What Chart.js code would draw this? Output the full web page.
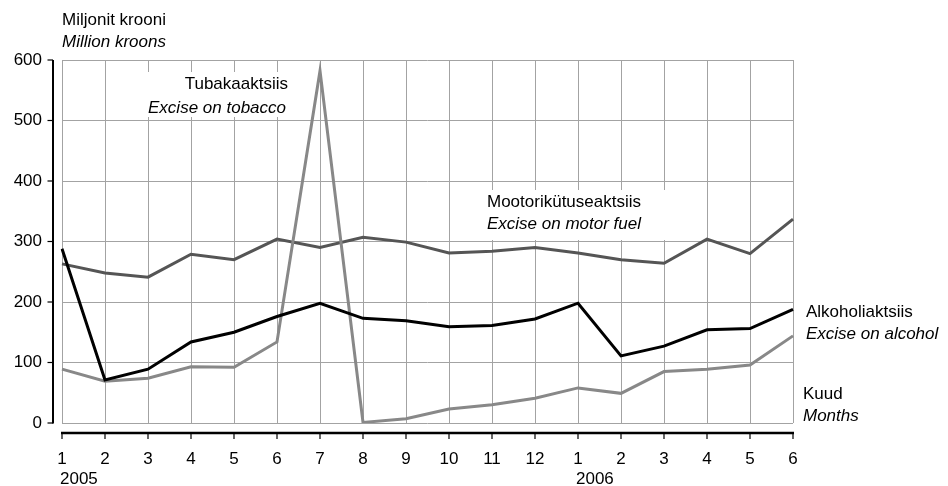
<!DOCTYPE html>
<html>
<head>
<meta charset="utf-8">
<script src="https://cdn.jsdelivr.net/npm/chart.js@4"></script>
<style>
  body { margin: 0; background: #fff; }
  canvas { display: block; }
</style>
</head>
<body>
<canvas id="chart" width="948" height="486"></canvas>
<script>
// Month labels (2005 Jan .. 2006 Jun)
const MONTHS = ['1', '2', '3', '4', '5', '6', '7', '8', '9', '10', '11', '12', '1', '2', '3', '4', '5', '6'];
// Year shown under the first month of each year
const YEARS = ['2005', '', '', '', '', '', '', '', '', '', '', '', '2006', '', '', '', '', ''];

// Series, million kroons
const MOTOR_FUEL = [263, 248, 241, 279, 270, 304, 290, 307, 299, 281, 284, 290, 281, 270, 264, 304, 280, 337];
const ALCOHOL = [288, 71, 89, 134, 150, 176, 198, 173, 169, 159, 161, 172, 198, 111, 127, 154, 156, 188];
const TOBACCO = [89, 69, 74, 93, 92, 134, 582, 1, 7, 23, 30, 41, 58, 49, 85, 89, 96, 144];

const Y_TICKS = [0, 100, 200, 300, 400, 500, 600];

const FONT = "'Liberation Sans', Arial, sans-serif";
const GRID = '#a3a3a3';

// Text blocks drawn on the canvas: [text, x, y, align, italic]
const NOTES = [
  ['Miljonit krooni', 62, 20, 'left', false],
  ['Million kroons', 62, 42, 'left', true],
  ['Tubakaaktsiis', 288, 84, 'right', false],
  ['Excise on tobacco', 286, 108, 'right', true],
  ['Mootorikütuseaktsiis', 487, 202, 'left', false],
  ['Excise on motor fuel', 487, 224, 'left', true],
  ['Alkoholiaktsiis', 806, 312, 'left', false],
  ['Excise on alcohol', 806, 334, 'left', true],
  ['Kuud', 803, 394, 'left', false],
  ['Months', 803, 416, 'left', true]
];

// White boxes behind some labels (hide grid lines)
const LABEL_BOXES = [
  [140, 72, 155, 45],
  [477, 190, 203, 50]
];

const decorPlugin = {
  id: 'decor',
  beforeDatasetsDraw(chart) {
    const ctx = chart.ctx;
    ctx.save();
    ctx.fillStyle = '#fff';
    LABEL_BOXES.forEach(b => ctx.fillRect(b[0], b[1], b[2], b[3]));
    ctx.restore();
  },
  afterDraw(chart) {
    const ctx = chart.ctx;
    const x = chart.scales.x;
    const y = chart.scales.y;
    const area = chart.chartArea;
    ctx.save();
    ctx.strokeStyle = '#000';

    // Detached y axis line with ticks
    ctx.lineWidth = 2;
    ctx.beginPath();
    ctx.moveTo(53, y.getPixelForValue(600));
    ctx.lineTo(53, y.getPixelForValue(0) + 0.5);
    ctx.stroke();
    ctx.lineWidth = 1.2;
    Y_TICKS.forEach(v => {
      const py = y.getPixelForValue(v);
      ctx.beginPath();
      ctx.moveTo(47.5, py);
      ctx.lineTo(53, py);
      ctx.stroke();
    });

    // Detached x axis line with ticks
    const axisY = area.bottom + 10;
    ctx.lineWidth = 2.5;
    ctx.beginPath();
    ctx.moveTo(area.left - 1, axisY);
    ctx.lineTo(area.right + 1, axisY);
    ctx.stroke();
    ctx.lineWidth = 1.2;
    MONTHS.forEach((m, i) => {
      const px = x.getPixelForValue(i);
      ctx.beginPath();
      ctx.moveTo(px, axisY);
      ctx.lineTo(px, axisY + 6);
      ctx.stroke();
    });

    // Year labels
    ctx.fillStyle = '#000';
    ctx.font = '17px ' + FONT;
    ctx.textAlign = 'left';
    ctx.textBaseline = 'middle';
    YEARS.forEach((yr, i) => {
      if (yr) ctx.fillText(yr, x.getPixelForValue(i) - 2, 479);
    });

    // Text notes
    NOTES.forEach(n => {
      ctx.font = (n[4] ? 'italic ' : '') + '17px ' + FONT;
      ctx.textAlign = n[3];
      ctx.fillText(n[0], n[1], n[2]);
    });
    ctx.restore();
  }
};

new Chart(document.getElementById('chart'), {
  type: 'line',
  data: {
    labels: MONTHS,
    datasets: [
      { label: 'Alkoholiaktsiis', data: ALCOHOL, borderColor: '#000' },
      { label: 'Tubakaaktsiis', data: TOBACCO, borderColor: '#888' },
      { label: 'Mootorikütuseaktsiis', data: MOTOR_FUEL, borderColor: '#555' }
    ]
  },
  options: {
    responsive: false,
    animation: false,
    devicePixelRatio: 1,
    layout: { padding: { top: 60, right: 155, bottom: 0, left: 0 } },
    elements: {
      line: { borderWidth: 3, tension: 0, borderJoinStyle: 'miter' },
      point: { radius: 0 }
    },
    plugins: {
      legend: { display: false },
      tooltip: { enabled: false }
    },
    scales: {
      x: {
        type: 'category',
        offset: false,
        afterFit: scale => { scale.height = 63; },
        grid: { color: GRID, lineWidth: 1, drawTicks: false },
        border: { display: false },
        ticks: {
          color: '#000',
          font: { family: FONT, size: 17 },
          padding: 26,
          maxRotation: 0,
          autoSkip: false
        }
      },
      y: {
        min: 0,
        max: 600,
        afterFit: scale => { scale.width = 62; },
        grid: { color: GRID, lineWidth: 1, drawTicks: false },
        border: { display: false },
        ticks: {
          stepSize: 100,
          color: '#000',
          font: { family: FONT, size: 17 },
          padding: 20
        }
      }
    }
  },
  plugins: [decorPlugin]
});
</script>
</body>
</html>
